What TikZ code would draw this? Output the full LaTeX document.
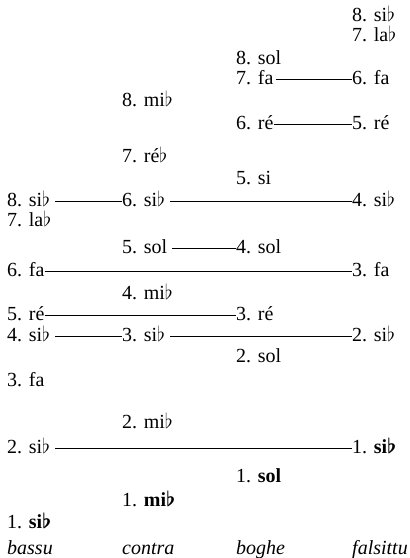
\documentclass[tikz,border=0pt]{standalone}
\usepackage{fontspec}
\setmainfont{Liberation Serif}
\newcommand{\fl}{$\flat$}
\newcommand{\bfl}{{\boldmath$\flat$}}

\begin{document}
\begin{tikzpicture}[x=1pt,y=-1pt,note/.style={anchor=base west,inner sep=0pt,text height=9pt,text depth=0pt,font=\fontsize{20}{23}\selectfont},voice/.style={note,font=\fontsize{20}{23}\selectfont\itshape},link/.style={line width=0.7pt},gap/.style={link,shorten <=5pt}]
\useasboundingbox (0,0) rectangle (410,558);
% falsittu
\node[note] (fal8) at (352,21) {8. si\fl};
\node[note] (fal7) at (352,41) {7. la\fl};
\node[note] (fal6) at (352,84) {6. fa};
\node[note] (fal5) at (352,129) {5. ré};
\node[note] (fal4) at (352,206) {4. si\fl};
\node[note] (fal3) at (352,276) {3. fa};
\node[note] (fal2) at (352,341) {2. si\fl};
\node[note] (fal1) at (352,453) {1. \textbf{si}\bfl};
% boghe
\node[note] (bog8) at (236,64) {8. sol};
\node[note] (bog7) at (236,84) {7. fa};
\node[note] (bog6) at (236,129) {6. ré};
\node[note] (bog5) at (236,184) {5. si};
\node[note] (bog4) at (236,253) {4. sol};
\node[note] (bog3) at (236,320) {3. ré};
\node[note] (bog2) at (236,362) {2. sol};
\node[note] (bog1) at (236,482) {1. \textbf{sol}};
% contra
\node[note] (con8) at (122,106) {8. mi\fl};
\node[note] (con7) at (122,162) {7. ré\fl};
\node[note] (con6) at (122,206) {6. si\fl};
\node[note] (con5) at (122,253) {5. sol};
\node[note] (con4) at (122,299) {4. mi\fl};
\node[note] (con3) at (122,341) {3. si\fl};
\node[note] (con2) at (122,428) {2. mi\fl};
\node[note] (con1) at (122,506) {1. \textbf{mi}\bfl};
% bassu
\node[note] (bas8) at (7,206) {8. si\fl};
\node[note] (bas7) at (7,226) {7. la\fl};
\node[note] (bas6) at (7,276) {6. fa};
\node[note] (bas5) at (7,320) {5. ré};
\node[note] (bas4) at (7,341) {4. si\fl};
\node[note] (bas3) at (7,386) {3. fa};
\node[note] (bas2) at (7,453) {2. si\fl};
\node[note] (bas1) at (7,528) {1. \textbf{si}\bfl};
% voices
\node[voice] (bassu) at (7,554) {bassu};
\node[voice] (contra) at (122,554) {contra};
\node[voice] (boghe) at (236,554) {boghe};
\node[voice] (falsittu) at (352,554) {falsittu};
% connections
\draw[link,shorten <=2pt] (bog7.east) -- (fal6.west);
\draw[link] (bog6.east) -- (fal5.west);
\draw[gap] (bas8.east) -- (con6.west);
\draw[gap] (con6.east) -- (fal4.west);
\draw[gap] (con5.east) -- (bog4.west);
\draw[link] (bas6.east) -- (fal3.west);
\draw[link] (bas5.east) -- (bog3.west);
\draw[gap] (bas4.east) -- (con3.west);
\draw[gap] (con3.east) -- (fal2.west);
\draw[gap] (bas2.east) -- (fal1.west);
\end{tikzpicture}
\end{document}
